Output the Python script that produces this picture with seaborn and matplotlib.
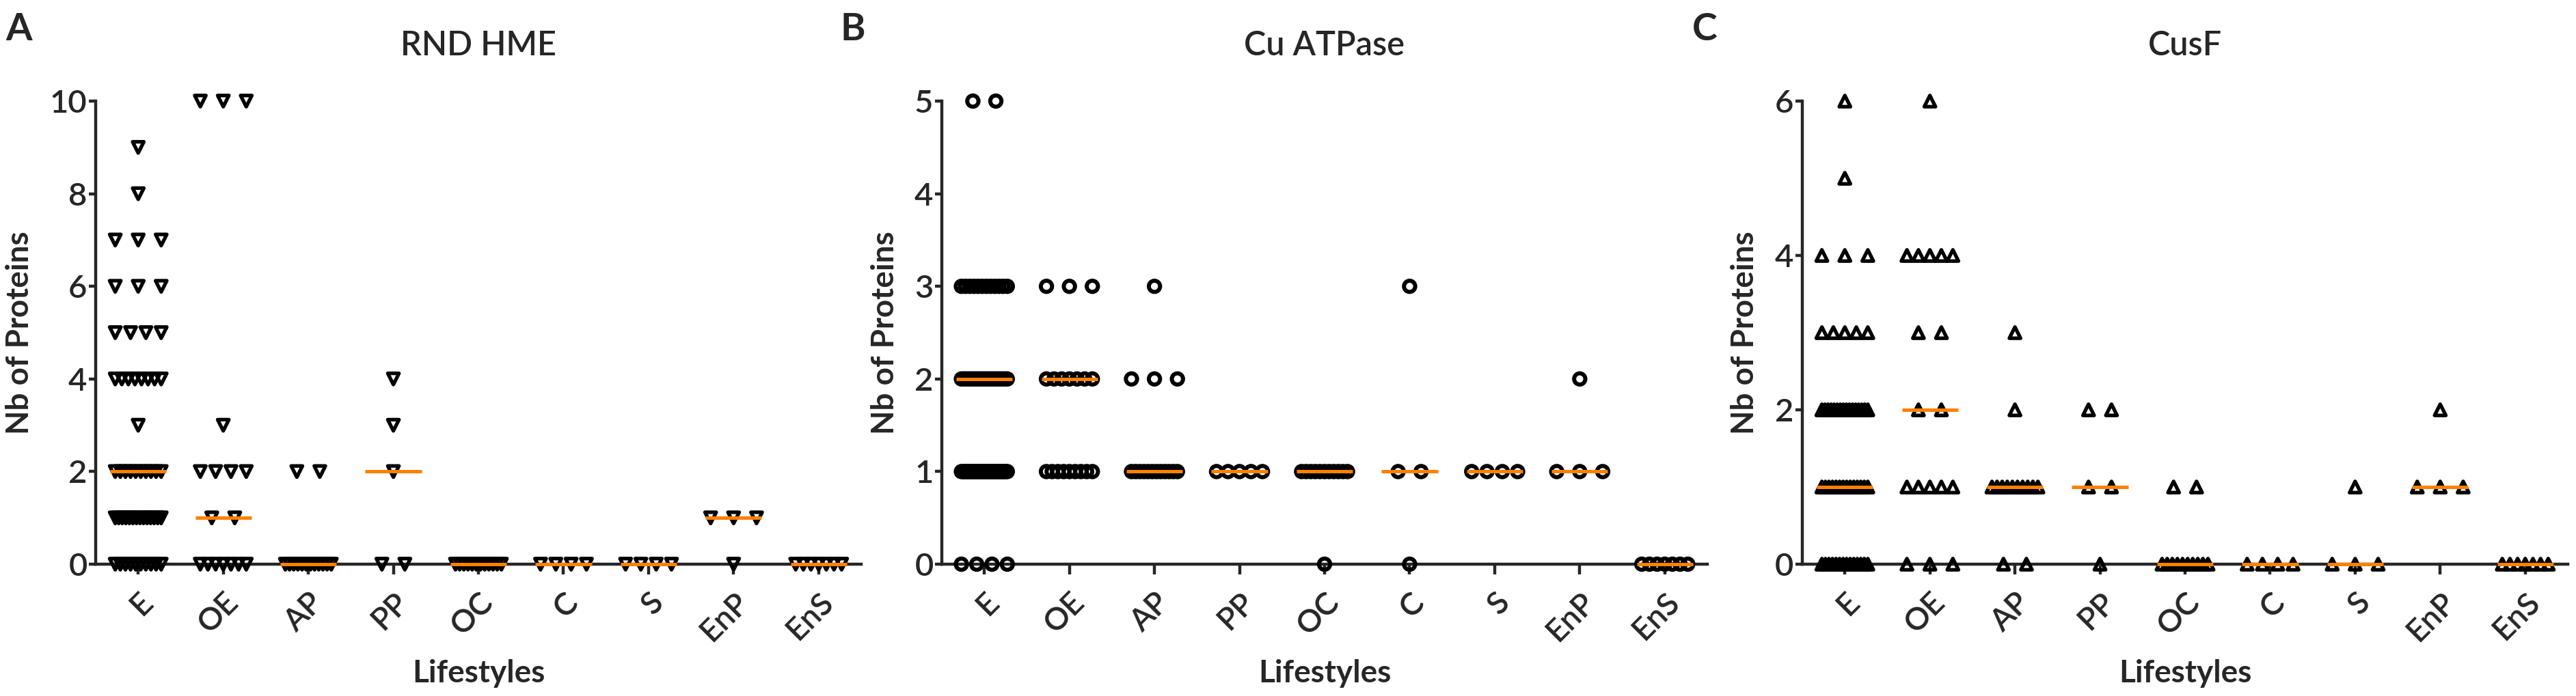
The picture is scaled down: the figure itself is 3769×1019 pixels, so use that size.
import numpy as np
import pandas as pd
import seaborn as sns
import matplotlib.pyplot as plt

# categorie (stili di vita) comuni ai tre pannelli
lifestyles = ['E', 'OE', 'AP', 'PP', 'OC', 'C', 'S', 'EnP', 'EnS']

# numero di genomi per ogni valore di "Nb of Proteins" (indice = numero di proteine)
rnd_hme_counts = {
    'E':   [10, 14, 10, 1, 8, 4, 3, 3, 1, 1],
    'OE':  [7, 2, 4, 1, 0, 0, 0, 0, 0, 0, 3],
    'AP':  [12, 0, 2],
    'PP':  [2, 0, 1, 1, 1],
    'OC':  [12],
    'C':   [4],
    'S':   [4],
    'EnP': [1, 3],
    'EnS': [7],
}
cu_atpase_counts = {
    'E':   [4, 26, 24, 12, 0, 2],
    'OE':  [0, 9, 7, 3],
    'AP':  [0, 12, 3, 1],
    'PP':  [0, 5],
    'OC':  [1, 11],
    'C':   [1, 2, 0, 1],
    'S':   [0, 4],
    'EnP': [0, 3, 1],
    'EnS': [7],
}
cusf_counts = {
    'E':   [14, 14, 16, 5, 3, 1, 1],
    'OE':  [3, 5, 2, 2, 5, 0, 1],
    'AP':  [2, 10, 1, 1],
    'PP':  [1, 2, 2],
    'OC':  [10, 2],
    'C':   [4],
    'S':   [3, 1],
    'EnP': [0, 3, 1],
    'EnS': [7],
}

panels = [
    ('A', 'RND HME', rnd_hme_counts, 'v', 3.8, 10, [0, 2, 4, 6, 8, 10]),
    ('B', 'Cu ATPase', cu_atpase_counts, 'o', 4.3, 5, [0, 1, 2, 3, 4, 5]),
    ('C', 'CusF', cusf_counts, '^', 3.8, 6, [0, 2, 4, 6]),
]


def spread_points(counts, step=0.27, span=0.54):
    # punti con lo stesso valore affiancati come nello scatter di Prism
    rows = []
    for i, cat in enumerate(lifestyles):
        for value, n in enumerate(counts[cat]):
            if n == 0:
                continue
            gap = step if n == 1 else min(step, span / (n - 1))
            for off in (np.arange(n) - (n - 1) / 2) * gap:
                rows.append({'Lifestyles': cat, 'proteins': value, 'pos': i + off})
    return pd.DataFrame(rows)


sns.set_style('ticks')
plt.rcParams['font.family'] = ['Lato', 'DejaVu Sans']

W, H = 3769, 1019
fig = plt.figure(figsize=(W / 100, H / 100), dpi=100)

ax_left = [140, 1378, 2637]
letter_x = [8, 1230, 2476]
ylabel_x = [-0.080, -0.055, -0.056]

for k, (letter, title, counts, marker, lw, ymax, yticks) in enumerate(panels):
    ax = fig.add_axes([ax_left[k] / W, (H - 826) / H, 1120 / W, 678 / H])
    df = spread_points(counts)

    sns.scatterplot(data=df, x='pos', y='proteins', marker=marker, s=140,
                    facecolor='none', edgecolor='black', linewidth=lw,
                    clip_on=False, zorder=3, ax=ax, legend=False)

    med = df.groupby('Lifestyles')['proteins'].median().reindex(lifestyles)
    xs = np.arange(len(lifestyles))
    ax.hlines(med.values, xs - 0.33, xs + 0.33, color='#FF8000', lw=3.6,
              zorder=5, clip_on=False)

    ax.set_xlim(-0.5, len(lifestyles) - 0.5)
    ax.set_ylim(0, ymax)
    ax.set_yticks(yticks)
    ax.set_xticks(xs)
    ax.set_xticklabels(lifestyles, rotation=45, ha='right', va='top',
                       rotation_mode='anchor', fontsize=33, fontweight='semibold')
    for lab in ax.get_yticklabels():
        lab.set_fontweight('semibold')
    ax.tick_params(axis='y', labelsize=34, length=7, width=3.2, pad=2)
    ax.tick_params(axis='x', length=11, width=3.2, pad=14)
    for side in ['left', 'bottom']:
        ax.spines[side].set_linewidth(3.2)
    sns.despine(ax=ax)

    ax.set_title(title, fontsize=35, fontweight='semibold', pad=48)
    ax.set_xlabel('Lifestyles', fontsize=33, fontweight='bold')
    ax.set_ylabel('Nb of Proteins', fontsize=33, fontweight='bold')
    ax.xaxis.set_label_coords(0.5, -0.205)
    ax.yaxis.set_label_coords(ylabel_x[k], 0.5)

    fig.text(letter_x[k] / W, 1 - 59 / H, letter, fontsize=40,
             fontweight='bold', ha='left', va='baseline')

fig.savefig('out.png', dpi=100)
